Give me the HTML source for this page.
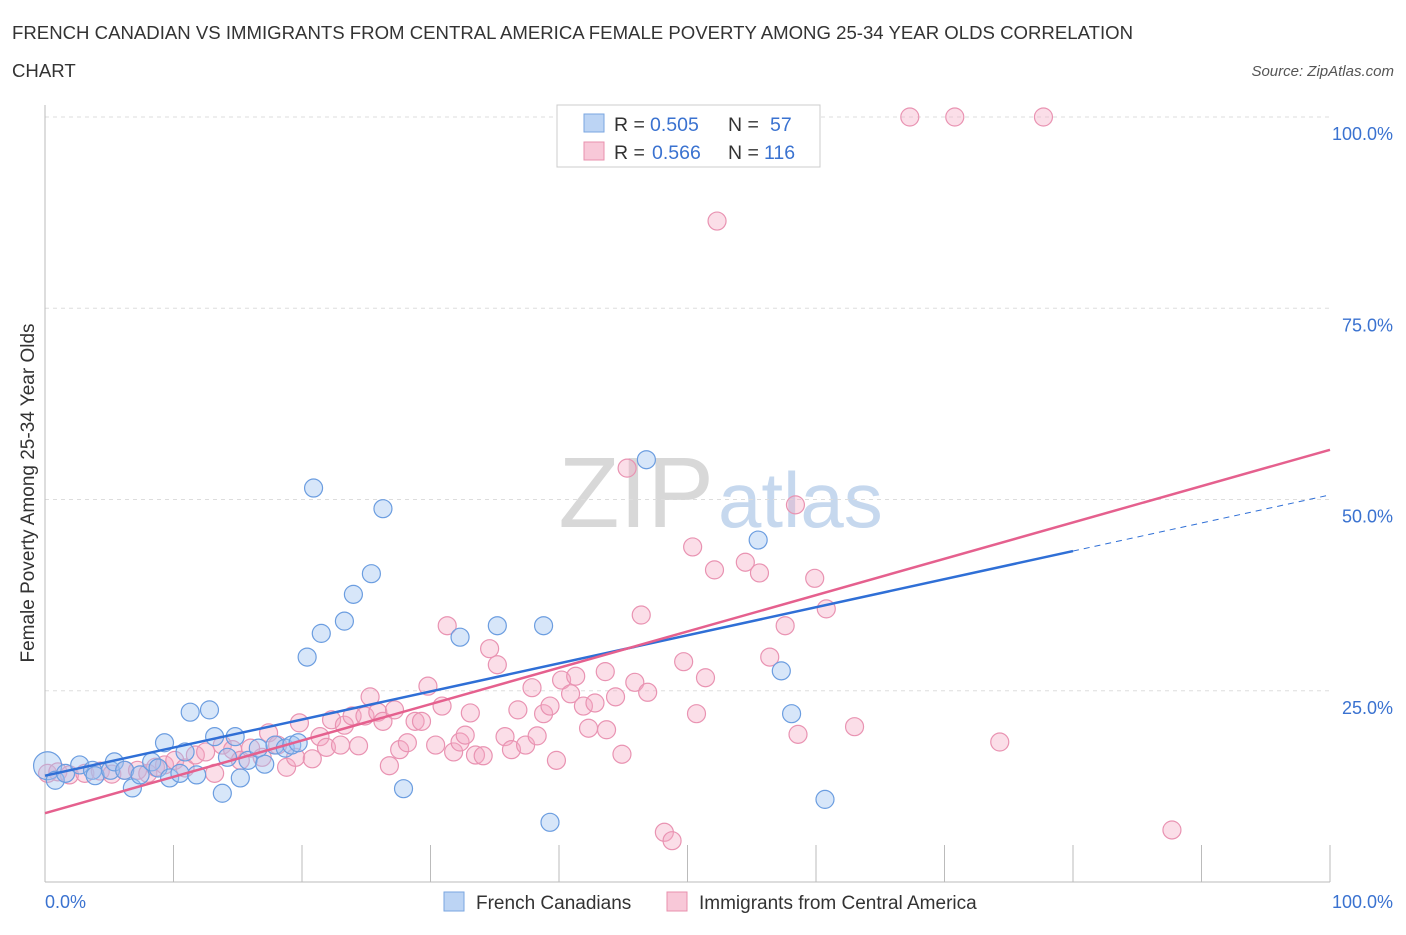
<!DOCTYPE html>
<html><head><meta charset="utf-8"><style>
body{margin:0;background:#fff;font-family:"Liberation Sans",sans-serif;}
svg text{font-family:"Liberation Sans",sans-serif;}
</style></head><body>
<svg id="chart" width="1406" height="930" xmlns="http://www.w3.org/2000/svg">
<text x="12" y="39" font-size="18.6" fill="#333">FRENCH CANADIAN VS IMMIGRANTS FROM CENTRAL AMERICA FEMALE POVERTY AMONG 25-34 YEAR OLDS CORRELATION</text>
<text x="12" y="77" font-size="18.6" fill="#333">CHART</text>
<text x="1394" y="76" font-size="15" fill="#555" font-style="italic" text-anchor="end">Source: ZipAtlas.com</text>
<g>
<text x="714" y="527" font-size="100" fill="#d8d8d8" text-anchor="end" font-family="Liberation Serif, serif">ZIP</text>
<text x="718" y="527" font-size="78" fill="#c6d8ee">atlas</text>
</g>
<g id="grid"></g>
<g id="axes"></g>
<g id="marks"></g>
<text transform="translate(34,493) rotate(-90)" font-size="19" fill="#333" text-anchor="middle">Female Poverty Among 25-34 Year Olds</text>
<g>
<rect x="557" y="105" width="263" height="62" fill="#fff" stroke="#ccc"/>
<rect x="584" y="114" width="20" height="18" fill="#bcd4f4" stroke="#7aa6e0"/>
<text x="614" y="131" font-size="19.5" fill="#333">R = </text><text x="650" y="131" font-size="19.5" fill="#3a72d0">0.505</text>
<text x="728" y="131" font-size="19.5" fill="#333">N = </text><text x="770" y="131" font-size="19.5" fill="#3a72d0">57</text>
<rect x="584" y="142" width="20" height="18" fill="#f8c8d8" stroke="#e890ae"/>
<text x="614" y="159" font-size="19.5" fill="#333">R = </text><text x="652" y="159" font-size="19.5" fill="#3a72d0">0.566</text>
<text x="728" y="159" font-size="19.5" fill="#333">N = </text><text x="764" y="159" font-size="19.5" fill="#3a72d0">116</text>
</g>
<g>
<rect x="444" y="892" width="20" height="19" fill="#bcd4f4" stroke="#7aa6e0"/>
<text x="476" y="909" font-size="19" fill="#333">French Canadians</text>
<rect x="667" y="892" width="20" height="19" fill="#f8c8d8" stroke="#e890ae"/>
<text x="699" y="909" font-size="19" fill="#333">Immigrants from Central America</text>
</g>
</svg>
<script>
const blueX=[0.2,0.8,1.6,2.7,3.7,3.9,5.1,5.4,6.2,6.8,7.4,8.3,8.8,9.3,9.7,10.5,10.9,11.3,11.8,12.8,13.2,13.8,14.2,14.8,15.2,15.8,16.6,17.1,17.9,18.7,19.2,19.7,20.4,20.9,21.5,23.3,24.0,25.4,26.3,27.9,32.3,35.2,38.8,39.3,46.8,55.5,57.3,58.1,60.7];
const blueY=[15.2,13.3,14.2,15.3,14.6,13.9,14.6,15.7,14.6,12.3,14.0,15.7,14.9,18.2,13.6,14.2,17.0,22.2,14.0,22.5,19.0,11.6,16.3,19.0,13.6,15.9,17.5,15.4,17.9,17.5,17.9,18.2,29.4,51.5,32.5,34.1,37.6,40.3,48.8,12.2,32.0,33.5,33.5,7.8,55.2,44.7,27.6,22.0,10.8];
const pinkX=[0.2,1.0,1.9,3.1,4.3,5.2,6.2,7.2,8.0,8.6,9.3,10.1,10.9,11.7,12.5,13.2,13.8,14.6,15.2,16.0,16.9,17.4,18.1,18.8,19.5,19.8,20.8,21.4,21.9,22.3,23.0,23.3,23.9,24.4,24.9,25.3,25.9,26.3,26.8,27.2,27.6,28.2,28.8,29.3,29.8,30.4,30.9,31.3,31.8,32.3,32.7,33.1,33.5,34.1,34.6,35.2,35.8,36.3,36.8,37.4,37.9,38.3,38.8,39.3,39.8,40.2,40.9,41.3,41.9,42.3,42.8,43.6,43.7,44.4,44.9,45.3,45.9,46.4,46.9,48.2,48.8,49.7,50.4,50.7,51.4,52.1,52.3,54.5,55.6,56.4,57.6,58.4,58.6,59.9,60.8,63.0,67.3,70.8,74.3,77.7,87.7];
const pinkY=[14.2,14.4,14.0,14.2,14.5,14.1,14.6,14.6,14.2,15.0,15.3,15.9,14.9,16.6,17.0,14.2,17.9,17.3,15.9,17.5,16.3,19.5,17.9,15.0,16.3,20.8,16.1,19.0,17.6,21.2,17.9,20.5,21.7,17.8,21.7,24.2,22.2,21.0,15.2,22.5,17.3,18.2,21.0,21.0,25.6,17.9,23.0,33.5,17.0,18.3,19.2,22.1,16.6,16.5,30.5,28.4,19.0,17.3,22.5,17.9,25.4,19.1,22.0,23.0,15.9,26.4,24.6,26.9,23.0,20.1,23.4,27.5,19.9,24.2,16.7,54.1,26.1,34.9,24.8,6.5,5.4,28.8,43.8,22.0,26.7,40.8,86.4,41.8,40.4,29.4,33.5,49.3,19.3,39.7,35.7,20.3,100,100,18.3,100,6.8];
const blueFit=[13.9,0.367]; // intercept, slope
const pinkFit=[9.0,0.475];
const yTicks=[25,50,75,100];
const yTickLabels=["25.0%","50.0%","75.0%","100.0%"];
const xTicks=[0,10,20,30,40,50,60,70,80,90,100];

const NS="http://www.w3.org/2000/svg";
const sx=v=>45+v*12.85, sy=v=>882-v*7.65;
function mk(tag,attrs,parent){const e=document.createElementNS(NS,tag);for(const k in attrs)e.setAttribute(k,attrs[k]);document.getElementById(parent).appendChild(e);return e;}
yTicks.forEach((t,i)=>{
  const g=mk('line',{x1:45,x2:1330,y1:sy(t),y2:sy(t),stroke:'#ddd','stroke-dasharray':'4,4'},'grid');
  
  
  const tx=mk('text',{x:1393,y:sy(t)+23,'font-size':18,fill:'#3a72d0','text-anchor':'end'},'axes');
  tx.textContent=yTickLabels[i];
  
  
});
const ax=mk('line',{x1:45,x2:45,y1:105,y2:882,stroke:'#bbb'},'axes');


const bx=mk('line',{x1:45,x2:1330,y1:882,y2:882,stroke:'#bbb'},'axes');


xTicks.forEach(t=>{
  const l=mk('line',{x1:sx(t),x2:sx(t),y1:845,y2:882,stroke:'#bbb'},'axes');
  
  
});
const xl0=mk('text',{x:45,y:908,'font-size':18,fill:'#3a72d0'},'axes');xl0.textContent='0.0%';


const xl1=mk('text',{x:1393,y:908,'font-size':18,fill:'#3a72d0','text-anchor':'end'},'axes');xl1.textContent='100.0%';



pinkX.forEach((x,i)=>{
  const c=mk('circle',{cx:sx(x),cy:sy(pinkY[i]),r:9,fill:'rgba(245,168,195,0.38)',stroke:'#e993b2','stroke-width':1.2},'marks');
  
  
});
blueX.forEach((x,i)=>{
  const c=mk('circle',{cx:sx(x),cy:sy(blueY[i]),r:i===0?14:9,fill:'rgba(160,196,240,0.42)',stroke:'#6b9de0','stroke-width':1.2},'marks');
  
  
});
const bl=mk('line',{x1:sx(0),y1:sy(blueFit[0]),x2:sx(80),y2:sy(blueFit[0]+blueFit[1]*80),stroke:'#2f6fd6','stroke-width':2.5},'marks');


const bd=mk('line',{x1:sx(80),y1:sy(blueFit[0]+blueFit[1]*80),x2:sx(100),y2:sy(blueFit[0]+blueFit[1]*100),stroke:'#2f6fd6','stroke-width':1,'stroke-dasharray':'6,5'},'marks');


const pl=mk('line',{x1:sx(0),y1:sy(pinkFit[0]),x2:sx(100),y2:sy(pinkFit[0]+pinkFit[1]*100),stroke:'#e5608e','stroke-width':2.5},'marks');


</script>
</body></html>
